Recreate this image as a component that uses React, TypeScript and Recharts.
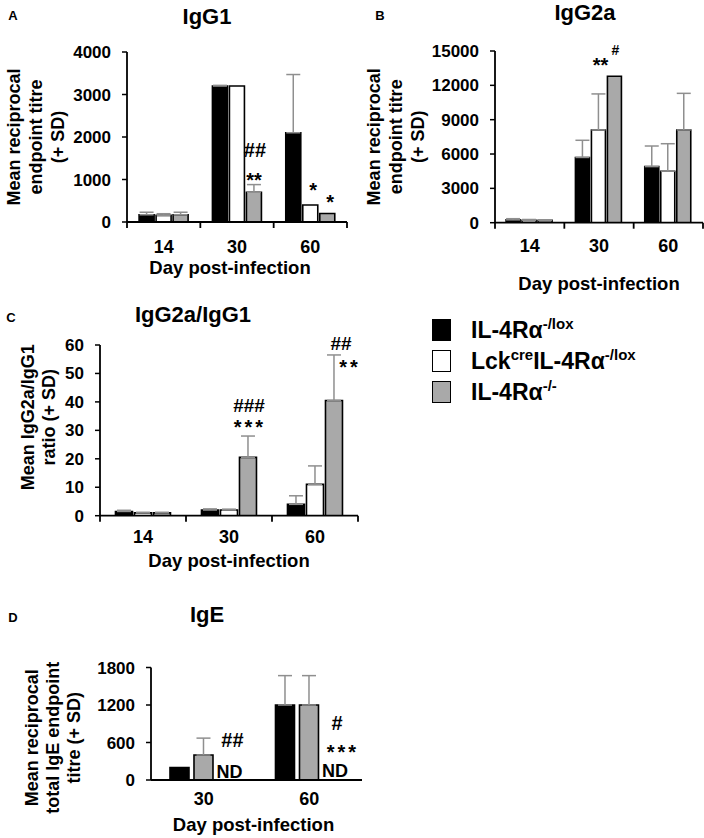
import React from 'react';
import { BarChart, Bar, XAxis, YAxis, ErrorBar, LabelList } from 'recharts';

const FONT = '"Liberation Sans", Arial, Helvetica, sans-serif';
const BLACK = '#000000';
const WHITE = '#ffffff';
const GREY = '#a9a9a9';
const ERR = '#8f8f8f';

// categories
const days = ['14', '30', '60'];
const igeDays = ['30', '60'];

// A: IgG1
const igg1Lox = [170, 3200, 2100];
const igg1LoxSd = [60, 15, 1370];
const igg1Cre = [155, 3200, 400];
const igg1CreSd = [40, 0, 0];
const igg1Ko = [170, 700, 200];
const igg1KoSd = [60, 180, 0];
const igg1CreStars = ['', '', '*'];
const igg1KoStars = ['', '**', '*'];
const igg1KoHash = ['', '##', ''];

// B: IgG2a
const igg2aLox = [250, 5700, 4900];
const igg2aLoxSd = [100, 1500, 1800];
const igg2aCre = [200, 8100, 4500];
const igg2aCreSd = [80, 3150, 2400];
const igg2aKo = [200, 12800, 8100];
const igg2aKoSd = [60, 0, 3200];
const igg2aKoStars = ['', '**', ''];
const igg2aKoHash = ['', '#', ''];

// C: IgG2a/IgG1 ratio
const ratioLox = [1.5, 2, 4];
const ratioLoxSd = [0.4, 0.4, 3];
const ratioCre = [1, 2, 11];
const ratioCreSd = [0.2, 0.3, 6.5];
const ratioKo = [1, 20.5, 40.5];
const ratioKoSd = [0.2, 7.5, 16];
const ratioKoStars = ['', '***', '**'];
const ratioKoHash = ['', '###', '##'];

// D: IgE (knockout not detected)
const igeLox = [200, 1200];
const igeLoxSd = [0, 470];
const igeCre = [400, 1200];
const igeCreSd = [270, 470];
const igeKo = [0, 0];
const igeKoSd = [0, 0];
const igeKoNd = ['ND', 'ND'];
const igeKoStars = ['', '***'];
const igeKoHash = ['##', '#'];

// legend text: [text, superscript]
const legendLabels: [string, boolean][][] = [
  [['IL-4Rα', false], ['-/lox', true]],
  [['Lck', false], ['cre', true], ['IL-4Rα', false], ['-/lox', true]],
  [['IL-4Rα', false], ['-/-', true]],
];
const legendFills = [BLACK, WHITE, GREY];

type Spot = { from: 'err' | 'top' | 'base'; dx: number; dy: number };
type Note = { key: string; text: string[]; layout: Record<number, Spot>; size?: number; ls?: number };
type Series = { vals: number[]; sds: number[]; fill: string; notes: Note[] };

const buildRows = (cats: string[], series: Series[]) =>
  cats.map((c, i) => {
    const r: any = { day: c };
    series.forEach((s, k) => {
      r['v' + k] = s.vals[i];
      r['e' + k] = s.sds[i] ? [0, s.sds[i]] : null;
      s.notes.forEach((n) => {
        r[n.key] = n.text[i];
      });
    });
    return r;
  });

const noteContent = (s: Series, n: Note) => (props: any) => {
  const vb = props.viewBox ?? props;
  const { x, y, width, height } = vb;
  const i = props.index;
  const text = props.value;
  const spot = n.layout[i];
  if (!text || !spot) return null;
  const v = s.vals[i];
  const sd = s.sds[i] || 0;
  const errTop = v > 0 ? y - (sd / v) * height : y;
  const base = spot.from === 'err' ? errTop : spot.from === 'base' ? y + height : y;
  return (
    <text
      x={x + width / 2 + spot.dx}
      y={base + spot.dy}
      textAnchor="middle"
      fontSize={n.size ?? 20}
      fontWeight="bold"
      fontFamily={FONT}
      letterSpacing={n.ls ?? 0}
      fill={BLACK}
    >
      {text}
    </text>
  );
};

const yTitle = (lines: string[], xs: number[], shift: number) => (props: any) => {
  const vb = props.viewBox;
  const cy = vb.y + vb.height / 2 + shift;
  return (
    <g>
      {lines.map((t, k) => (
        <text
          key={k}
          x={xs[k]}
          y={cy}
          transform={`rotate(-90 ${xs[k]} ${cy})`}
          textAnchor="middle"
          dominantBaseline="central"
          fontSize={18}
          fontWeight="bold"
          fontFamily={FONT}
          fill={BLACK}
        >
          {t}
        </text>
      ))}
    </g>
  );
};

const xTitle = (dx: number, dy: number) => (props: any) => {
  const vb = props.viewBox;
  return (
    <text
      x={vb.x + vb.width / 2 + dx}
      y={vb.y + dy}
      textAnchor="middle"
      fontSize={18.5}
      fontWeight="bold"
      fontFamily={FONT}
      fill={BLACK}
    >
      Day post-infection
    </text>
  );
};

const bandTick = (half: number, dy: number, marks: boolean, lastCat: string) => (props: any) => {
  const { x, y, payload } = props;
  return (
    <g>
      {marks && <line x1={x - half} x2={x - half} y1={y} y2={y + 6} stroke={BLACK} strokeWidth={1.8} />}
      {marks && payload.value === lastCat && (
        <line x1={x + half} x2={x + half} y1={y} y2={y + 6} stroke={BLACK} strokeWidth={1.8} />
      )}
      <text x={x} y={y + dy} textAnchor="middle" fontSize={18} fontWeight="bold" fontFamily={FONT} fill={BLACK}>
        {payload.value}
      </text>
    </g>
  );
};

type PanelProps = {
  left: number;
  top: number;
  width: number;
  height: number;
  margin: { top: number; right: number; bottom: number };
  yWidth: number;
  domain: [number, number];
  ticks: number[];
  cats: string[];
  series: Series[];
  catGap: string;
  barGap: number;
  yLines: string[];
  yXs: number[];
  yShift: number;
  tickDy: number;
  marks: boolean;
  titleDx: number;
  titleDy: number;
};

const Panel = (p: PanelProps) => {
  const data = buildRows(p.cats, p.series);
  const plotW = p.width - p.margin.right - p.yWidth;
  const half = plotW / p.cats.length / 2;
  return (
    <div style={{ position: 'absolute', left: p.left, top: p.top }}>
      <BarChart
        width={p.width}
        height={p.height}
        data={data}
        margin={{ top: p.margin.top, right: p.margin.right, bottom: p.margin.bottom, left: 0 }}
        barCategoryGap={p.catGap}
        barGap={p.barGap}
      >
        <XAxis
          dataKey="day"
          height={30}
          interval={0}
          tickLine={false}
          tickSize={0}
          tickMargin={0}
          axisLine={{ stroke: BLACK, strokeWidth: 1.8 }}
          tick={bandTick(half, p.tickDy, p.marks, p.cats[p.cats.length - 1])}
          label={{ content: xTitle(p.titleDx, p.titleDy) }}
        />
        <YAxis
          type="number"
          width={p.yWidth}
          domain={p.domain}
          ticks={p.ticks}
          interval={0}
          allowDataOverflow
          tickSize={5}
          tickMargin={11}
          tickLine={{ stroke: BLACK, strokeWidth: 1.5 }}
          axisLine={{ stroke: BLACK, strokeWidth: 1.8 }}
          tick={{ fontSize: 17, fontWeight: 'bold', fill: BLACK, fontFamily: FONT }}
          label={{ content: yTitle(p.yLines, p.yXs, p.yShift) }}
        />
        {p.series.map((s, k) => (
          <Bar key={k} dataKey={'v' + k} fill={s.fill} stroke={BLACK} strokeWidth={1.6} isAnimationActive={false}>
            <ErrorBar dataKey={'e' + k} direction="y" width={7} stroke={ERR} strokeWidth={1.5} />
            {s.notes.map((n) => (
              <LabelList key={n.key} dataKey={n.key} content={noteContent(s, n)} />
            ))}
          </Bar>
        ))}
      </BarChart>
    </div>
  );
};

const seriesA: Series[] = [
  { vals: igg1Lox, sds: igg1LoxSd, fill: BLACK, notes: [] },
  {
    vals: igg1Cre,
    sds: igg1CreSd,
    fill: WHITE,
    notes: [{ key: 'creStars', text: igg1CreStars, layout: { 2: { from: 'top', dx: 3, dy: -8 } } }],
  },
  {
    vals: igg1Ko,
    sds: igg1KoSd,
    fill: GREY,
    notes: [
      {
        key: 'koStars',
        text: igg1KoStars,
        layout: { 1: { from: 'err', dx: 0, dy: 2 }, 2: { from: 'top', dx: 3, dy: -5 } },
      },
      { key: 'koHash', text: igg1KoHash, layout: { 1: { from: 'err', dx: 1, dy: -28 } } },
    ],
  },
];

const seriesB: Series[] = [
  { vals: igg2aLox, sds: igg2aLoxSd, fill: BLACK, notes: [] },
  { vals: igg2aCre, sds: igg2aCreSd, fill: WHITE, notes: [] },
  {
    vals: igg2aKo,
    sds: igg2aKoSd,
    fill: GREY,
    notes: [
      { key: 'koStars', text: igg2aKoStars, layout: { 1: { from: 'top', dx: -14, dy: -4 } } },
      { key: 'koHash', text: igg2aKoHash, layout: { 1: { from: 'top', dx: 1, dy: -21 } }, size: 14 },
    ],
  },
];

const seriesC: Series[] = [
  { vals: ratioLox, sds: ratioLoxSd, fill: BLACK, notes: [] },
  { vals: ratioCre, sds: ratioCreSd, fill: WHITE, notes: [] },
  {
    vals: ratioKo,
    sds: ratioKoSd,
    fill: GREY,
    notes: [
      {
        key: 'koStars',
        text: ratioKoStars,
        layout: { 1: { from: 'err', dx: 2, dy: -2 }, 2: { from: 'err', dx: 16, dy: 19 } },
        ls: 3,
      },
      {
        key: 'koHash',
        text: ratioKoHash,
        layout: { 1: { from: 'err', dx: 1, dy: -24 }, 2: { from: 'err', dx: 7, dy: -5 } },
        size: 19,
      },
    ],
  },
];

// the knockout has no bar in D (ND), so its notes hang off the neighbouring bar's slot
const seriesD: Series[] = [
  { vals: igeLox, sds: igeLoxSd, fill: BLACK, notes: [] },
  {
    vals: igeCre,
    sds: igeCreSd,
    fill: GREY,
    notes: [
      {
        key: 'koNd',
        text: igeKoNd,
        layout: { 0: { from: 'base', dx: 26, dy: -2 }, 1: { from: 'base', dx: 26, dy: -3 } },
        size: 18,
      },
      {
        key: 'koHash',
        text: igeKoHash,
        layout: { 0: { from: 'base', dx: 29, dy: -33 }, 1: { from: 'base', dx: 28, dy: -50 } },
      },
      { key: 'koStars', text: igeKoStars, layout: { 1: { from: 'base', dx: 34, dy: -21 } }, ls: 3 },
    ],
  },
  { vals: igeKo, sds: igeKoSd, fill: GREY, notes: [] },
];

const titleStyle = { fontWeight: 'bold' as const, fontFamily: FONT, fill: BLACK };

export default function App() {
  return (
    <div style={{ position: 'relative', width: 704, height: 838, background: '#fff', fontFamily: FONT, overflow: 'hidden' }}>
      <style>{'body{margin:0}'}</style>
      <Panel
        left={0}
        top={0}
        width={360}
        height={285}
        margin={{ top: 52, right: 13, bottom: 33 }}
        yWidth={127}
        domain={[0, 4000]}
        ticks={[0, 1000, 2000, 3000, 4000]}
        cats={days}
        series={seriesA}
        catGap="16.5%"
        barGap={2}
        yLines={['Mean reciprocal', 'endpoint titre', '(+ SD)']}
        yXs={[14, 36, 58]}
        yShift={0}
        tickDy={31}
        marks
        titleDx={-7}
        titleDy={52}
      />
      <Panel
        left={360}
        top={0}
        width={344}
        height={300}
        margin={{ top: 51, right: 1, bottom: 47.3 }}
        yWidth={135}
        domain={[0, 15000]}
        ticks={[0, 3000, 6000, 9000, 12000, 15000]}
        cats={days}
        series={seriesB}
        catGap="16%"
        barGap={2}
        yLines={['Mean reciprocal', 'endpoint titre', '(+ SD)']}
        yXs={[14, 36, 58]}
        yShift={0}
        tickDy={29}
        marks
        titleDx={0}
        titleDy={67}
      />
      <Panel
        left={0}
        top={280}
        width={360}
        height={300}
        margin={{ top: 65, right: 2, bottom: 34.3 }}
        yWidth={100}
        domain={[0, 60]}
        ticks={[0, 10, 20, 30, 40, 50, 60]}
        cats={days}
        series={seriesC}
        catGap="18%"
        barGap={2}
        yLines={['Mean IgG2a/IgG1', 'ratio (+ SD)']}
        yXs={[28, 49]}
        yShift={-13}
        tickDy={27}
        marks
        titleDx={0}
        titleDy={51}
      />
      <Panel
        left={0}
        top={560}
        width={370}
        height={278}
        margin={{ top: 107.5, right: 8, bottom: 28 }}
        yWidth={151}
        domain={[0, 1800]}
        ticks={[0, 600, 1200, 1800]}
        cats={igeDays}
        series={seriesD}
        catGap="18%"
        barGap={5}
        yLines={['Mean reciprocal', 'total IgE endpoint', 'titre (+ SD)']}
        yXs={[32, 53, 74]}
        yShift={14}
        tickDy={25}
        marks={false}
        titleDx={-3}
        titleDy={51}
      />
      <svg width={704} height={838} style={{ position: 'absolute', left: 0, top: 0, pointerEvents: 'none' }}>
        <text x={13} y={20} fontSize={13} textAnchor="middle" {...titleStyle}>A</text>
        <text x={207} y={24} fontSize={22} textAnchor="middle" {...titleStyle}>IgG1</text>
        <text x={380} y={20} fontSize={13} textAnchor="middle" {...titleStyle}>B</text>
        <text x={585} y={20} fontSize={22} textAnchor="middle" {...titleStyle}>IgG2a</text>
        <text x={11} y={322} fontSize={13} textAnchor="middle" {...titleStyle}>C</text>
        <text x={193} y={322} fontSize={22} textAnchor="middle" {...titleStyle}>IgG2a/IgG1</text>
        <text x={13} y={622} fontSize={13} textAnchor="middle" {...titleStyle}>D</text>
        <text x={207} y={622} fontSize={22} textAnchor="middle" {...titleStyle}>IgE</text>
      </svg>
      <div style={{ position: 'absolute', left: 432, top: 314.5 }}>
        {legendLabels.map((parts, k) => (
          <div key={k} style={{ display: 'flex', alignItems: 'center', height: 31 }}>
            <div
              style={{
                width: 17,
                height: 20,
                background: legendFills[k],
                border: `1.5px solid ${BLACK}`,
                marginRight: 20,
              }}
            />
            <div style={{ fontSize: 23, fontWeight: 'bold', lineHeight: 1, whiteSpace: 'nowrap' }}>
              {parts.map(([t, sup], j) =>
                sup ? (
                  <span key={j} style={{ fontSize: 15, position: 'relative', top: -9 }}>
                    {t}
                  </span>
                ) : (
                  <span key={j}>{t}</span>
                )
              )}
            </div>
          </div>
        ))}
      </div>
    </div>
  );
}
